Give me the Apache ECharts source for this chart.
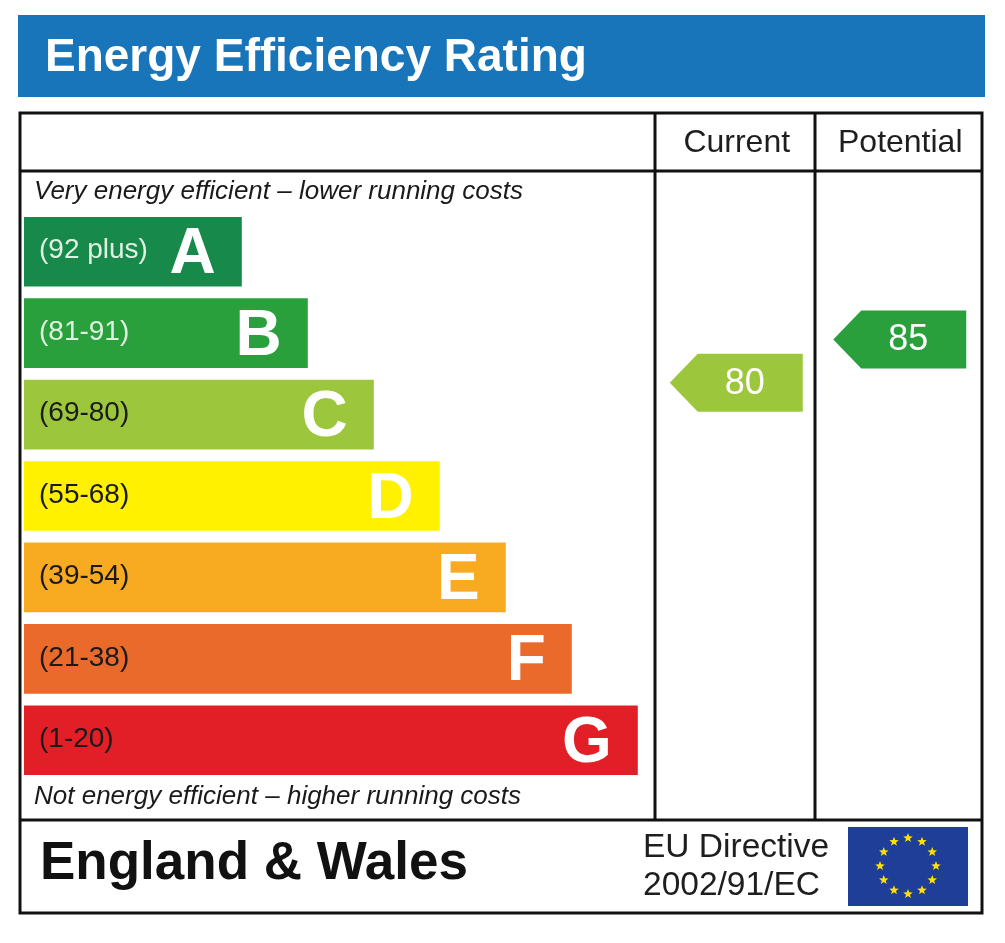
<!DOCTYPE html>
<html><head><meta charset="utf-8">
<script src="https://cdn.jsdelivr.net/npm/echarts@6/dist/echarts.min.js"></script>
<style>html,body{margin:0;padding:0;background:#fff}#c{width:1005px;height:943px}</style>
</head><body><div id="c"></div>
<script>
// ---- data ----
const bands = ['A','B','C','D','E','F','G'];
const bandRanges = ['(92 plus)','(81-91)','(69-80)','(55-68)','(39-54)','(21-38)','(1-20)'];
const bandMin = [92,81,69,55,39,21,1];
const bandMax = [100,91,80,68,54,38,20];
const barLengths = [33,43,53,63,73,83,93];
const bandColors = ['#17894a','#2aa03c','#9cc73c','#fff100','#f8ab21','#ea6a2c','#e21f26'];
const columns = ['Current','Potential'];
const ratings = [80, 85];

const FONT = '"Liberation Sans", Arial, sans-serif';
function bandOf(v){ for (let i=0;i<bands.length;i++){ if (v>=bandMin[i] && v<=bandMax[i]) return i; } return bands.length-1; }

// EU flag stars (decoration)
function starPoints(cx, cy, r){
  const pts=[];
  for(let k=0;k<10;k++){
    const a = -Math.PI/2 + k*Math.PI/5;
    const rr = k%2===0 ? r : r*0.42;
    pts.push([cx+rr*Math.cos(a), cy+rr*Math.sin(a)]);
  }
  return pts;
}
const stars=[];
for(let k=0;k<12;k++){
  const a = k*Math.PI/6;
  stars.push({type:'polygon', z:12, shape:{points:starPoints(908+28*Math.sin(a), 866-28*Math.cos(a), 5)}, style:{fill:'#ffe000'}});
}

const chart = echarts.init(document.getElementById('c'), null, {renderer:'canvas'});
chart.setOption({
  animation:false,
  backgroundColor:'#ffffff',
  title:{
    text:'Energy Efficiency Rating', left:40, top:30, z:20,
    textStyle:{color:'#ffffff', fontSize:46, fontWeight:'bold', fontFamily:FONT}
  },
  grid:[
    {left:24, top:211, width:660, height:570},
    {left:655, top:211, width:327, height:570}
  ],
  xAxis:[
    {gridIndex:0, type:'value', min:0, max:100, show:false},
    {gridIndex:1, type:'category', data:columns, position:'top',
     axisLine:{show:false}, axisTick:{show:false}, splitLine:{show:false},
     axisLabel:{margin:52, color:'#1e1e1e', fontSize:32, fontFamily:FONT}}
  ],
  yAxis:[
    {gridIndex:0, type:'category', data:bands, inverse:true, show:false},
    {gridIndex:1, type:'category', data:bands, inverse:true, show:false}
  ],
  graphic:[
    {type:'rect', z:1, shape:{x:18, y:15, width:967, height:82}, style:{fill:'#1875ba'}},
    {type:'rect', z:10, shape:{x:20, y:113, width:962, height:800}, style:{fill:'none', stroke:'#111', lineWidth:3}},
    {type:'line', z:10, shape:{x1:20, y1:171, x2:982, y2:171}, style:{stroke:'#111', lineWidth:3}},
    {type:'line', z:10, shape:{x1:20, y1:820, x2:982, y2:820}, style:{stroke:'#111', lineWidth:3}},
    {type:'line', z:10, shape:{x1:655, y1:113, x2:655, y2:820}, style:{stroke:'#111', lineWidth:3}},
    {type:'line', z:10, shape:{x1:815, y1:113, x2:815, y2:820}, style:{stroke:'#111', lineWidth:3}},
    {type:'text', z:10, style:{text:'Very energy efficient – lower running costs', x:34, y:192, verticalAlign:'middle', fill:'#1a1a1a', font:'italic 26px '+FONT}},
    {type:'text', z:10, style:{text:'Not energy efficient – higher running costs', x:34, y:797, verticalAlign:'middle', fill:'#1a1a1a', font:'italic 26px '+FONT}},
    {type:'text', z:10, style:{text:'England & Wales', x:40, y:864, verticalAlign:'middle', fill:'#111', font:'bold 53px '+FONT}},
    {type:'text', z:10, style:{text:'EU Directive', x:643, y:848, verticalAlign:'middle', fill:'#1e1e1e', font:'33.5px '+FONT}},
    {type:'text', z:10, style:{text:'2002/91/EC', x:643, y:886, verticalAlign:'middle', fill:'#1e1e1e', font:'33.5px '+FONT}},
    {type:'rect', z:11, shape:{x:848, y:827, width:120, height:79}, style:{fill:'#1f3e97'}}
  ].concat(stars),
  series:[
    {
      type:'custom', xAxisIndex:0, yAxisIndex:0,
      data: bands.map((b,i)=>[barLengths[i], i]),
      renderItem:function(params, api){
        const i = api.value(1);
        const start = api.coord([0, i]);
        const end = api.coord([api.value(0), i]);
        const bandH = api.size([0,1])[1];
        const h = bandH*0.855;
        return {type:'group', children:[
          {type:'rect', shape:{x:start[0], y:start[1]-h/2, width:end[0]-start[0], height:h}, style:{fill:bandColors[i]}},
          {type:'text', style:{text:bandRanges[i], x:start[0]+15, y:start[1]-1, verticalAlign:'middle', fill:(i<2?'#dff2e2':'#1a1a1a'), font:'28px '+FONT}},
          {type:'text', style:{text:bands[i], x:end[0]-26, y:start[1]+4, align:'right', verticalAlign:'middle', fill:'#ffffff', font:'bold 64px '+FONT}}
        ]};
      }
    },
    {
      type:'custom', xAxisIndex:1, yAxisIndex:1,
      data: ratings.map((v,c)=>[c, bandOf(v), v]),
      renderItem:function(params, api){
        const c = api.value(0), b = api.value(1), v = api.value(2);
        const ctr = api.coord([c, b]);
        const bandH = api.size([0,1])[1];
        const h = bandH*0.855;
        const frac = (bandMax[b]-v+0.5)/(bandMax[b]-bandMin[b]+1);
        const yc = ctr[1]-h/2+frac*h;
        const cx = ctr[0];
        const ah = 29;
        return {type:'group', children:[
          {type:'polygon', shape:{points:[[cx-67,yc],[cx-39,yc-ah],[cx+66,yc-ah],[cx+66,yc+ah],[cx-39,yc+ah]]}, style:{fill:bandColors[b]}},
          {type:'text', style:{text:String(v), x:cx+8, y:yc+1, align:'center', verticalAlign:'middle', fill:'#ffffff', font:'36px '+FONT}}
        ]};
      }
    }
  ]
});
</script>
</body></html>
